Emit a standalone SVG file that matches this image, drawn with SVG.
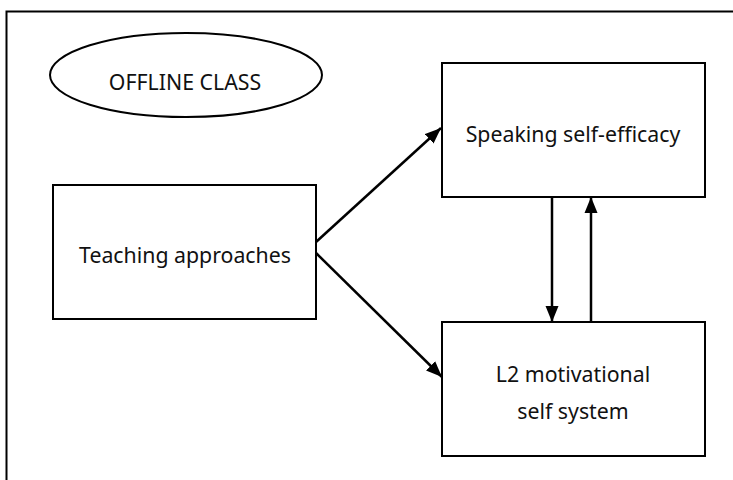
<svg xmlns="http://www.w3.org/2000/svg" width="733" height="480" viewBox="0 0 733 480">
<defs>
<marker id="ah" markerWidth="16" markerHeight="14" viewBox="0 0 16 14" refX="16" refY="7" orient="auto" markerUnits="userSpaceOnUse">
<path d="M0,0.5 L16,7 L0,13.5 Z" fill="#000"/>
</marker>
</defs>
<style>
.box{fill:#fff;stroke:#000;stroke-width:2}
.t{font-family:"Noto Sans","Open Sans",sans-serif;font-size:21.3px;fill:#111;text-anchor:middle}
.c{stroke:#000;stroke-width:2.5;fill:none}
</style>
<rect width="733" height="480" fill="#fff"/>
<rect x="6.5" y="11.5" width="800" height="600" fill="none" stroke="#000" stroke-width="2"/>
<g id="offline">
<ellipse cx="186" cy="75" rx="136" ry="42" class="box"/>
<text x="185" y="90" class="t">OFFLINE CLASS</text>
</g>
<g id="teaching">
<rect x="53" y="185" width="263" height="134" class="box"/>
<text x="185" y="263" class="t">Teaching approaches</text>
</g>
<g id="speaking">
<rect x="442" y="63" width="263" height="134" class="box"/>
<text x="573" y="142" class="t">Speaking self-efficacy</text>
</g>
<g id="l2">
<rect x="442" y="322" width="263" height="134" class="box"/>
<text x="573" y="382" class="t">L2 motivational</text>
<text x="573" y="419" class="t">self system</text>
</g>
<g id="connectors">
<line x1="316" y1="242" x2="441" y2="128" class="c" marker-end="url(#ah)"/>
<line x1="316" y1="253" x2="442" y2="377" class="c" marker-end="url(#ah)"/>
<line x1="552" y1="197" x2="552" y2="322" class="c" marker-end="url(#ah)"/>
<line x1="591" y1="322" x2="591" y2="197" class="c" marker-end="url(#ah)"/>
</g>
</svg>
